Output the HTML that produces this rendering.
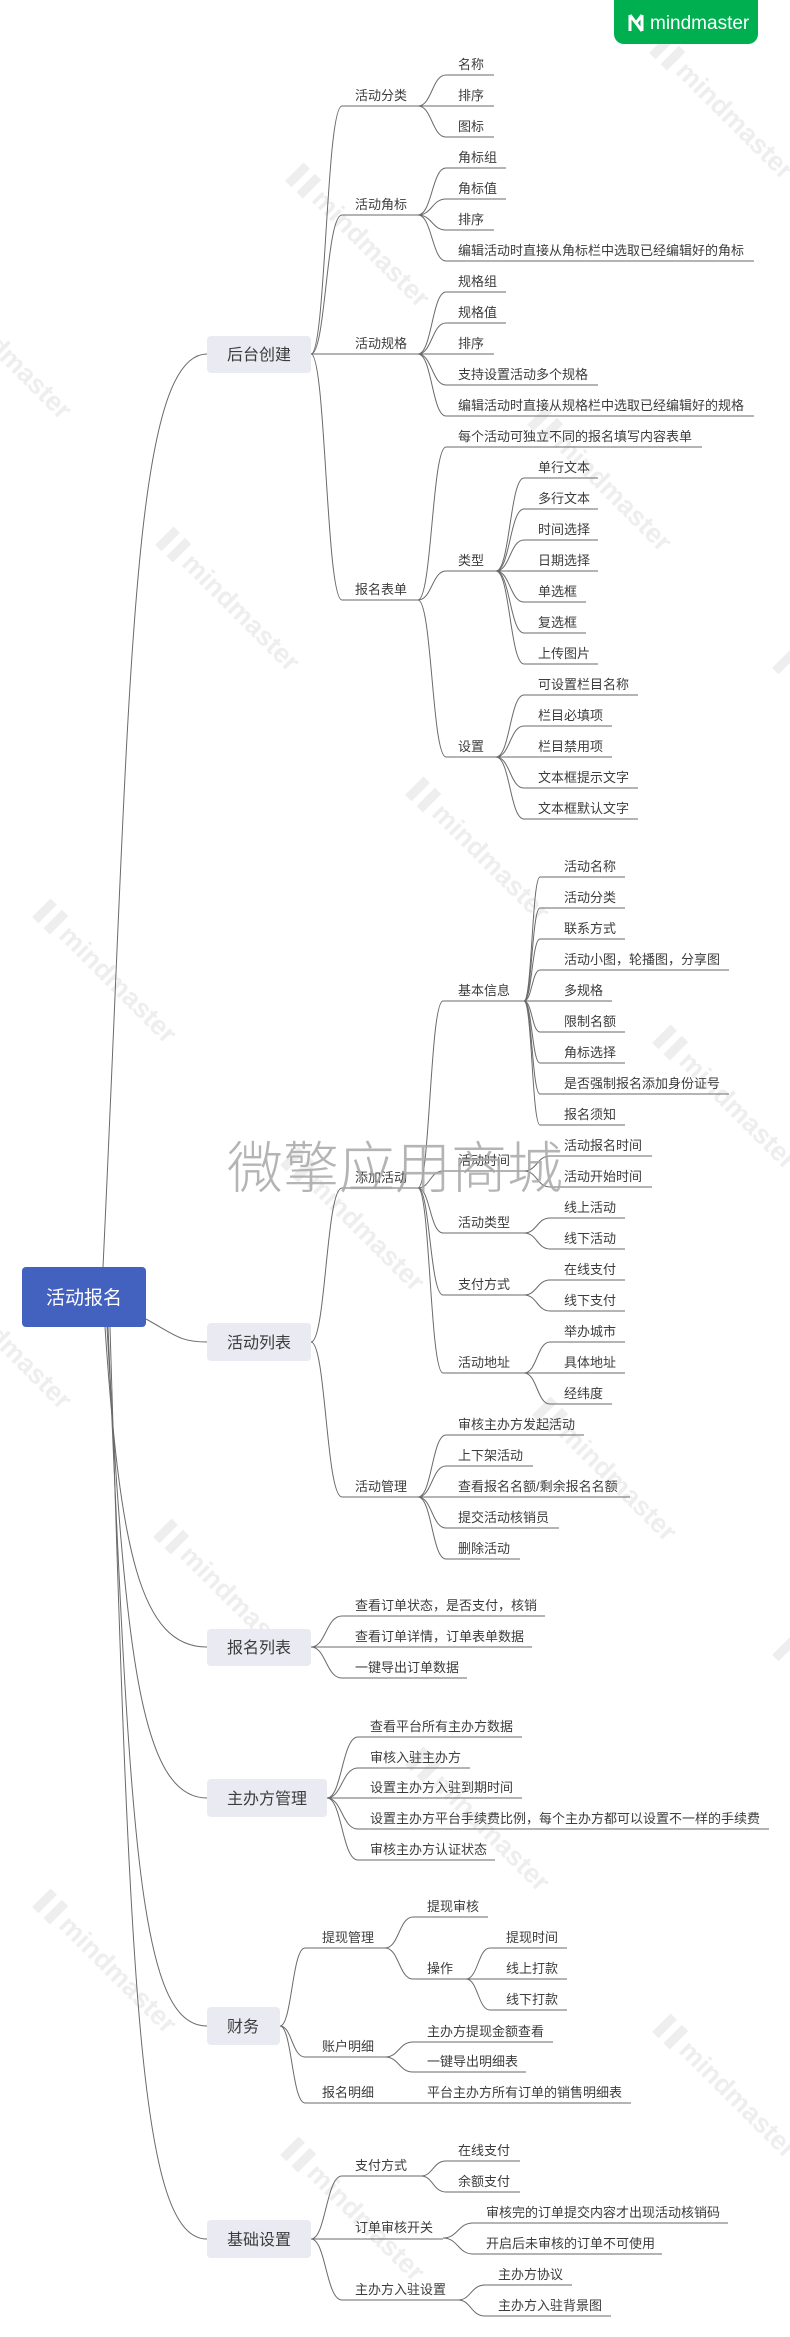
<!DOCTYPE html>
<html><head><meta charset="utf-8"><style>
html,body{margin:0;padding:0;background:#fff;}
svg{display:block;}
text{font-family:"Liberation Sans","Noto Sans CJK SC",sans-serif;}
.l{fill:#3c3c3c;font-size:13px;}
.b{fill:#3c3c3c;font-size:16px;}
.wm{fill:#eeeeee;font-size:27px;font-weight:bold;}
.wr{fill:#eeeeee;}
path.c{fill:none;stroke:#6a6a6a;stroke-width:1;}
</style></head><body>
<svg width="790" height="2337" viewBox="0 0 790 2337" xmlns="http://www.w3.org/2000/svg">
<g>
<g transform="translate(288,178) rotate(45)"><rect class="wr" x="0" y="-22" width="9" height="26"/><rect class="wr" x="16" y="-22" width="9" height="26"/><text class="wm" x="32" y="0">mindmaster</text></g>
<g transform="translate(652,50) rotate(45)"><rect class="wr" x="0" y="-22" width="9" height="26"/><rect class="wr" x="16" y="-22" width="9" height="26"/><text class="wm" x="32" y="0">mindmaster</text></g>
<g transform="translate(-70,290) rotate(45)"><text class="wm" x="32" y="0">mindmaster</text></g>
<g transform="translate(530,422) rotate(45)"><rect class="wr" x="0" y="-22" width="9" height="26"/><rect class="wr" x="16" y="-22" width="9" height="26"/><text class="wm" x="32" y="0">mindmaster</text></g>
<g transform="translate(158,542) rotate(45)"><rect class="wr" x="0" y="-22" width="9" height="26"/><rect class="wr" x="16" y="-22" width="9" height="26"/><text class="wm" x="32" y="0">mindmaster</text></g>
<g transform="translate(408,792) rotate(45)"><rect class="wr" x="0" y="-22" width="9" height="26"/><rect class="wr" x="16" y="-22" width="9" height="26"/><text class="wm" x="32" y="0">mindmaster</text></g>
<g transform="translate(35,914) rotate(45)"><rect class="wr" x="0" y="-22" width="9" height="26"/><rect class="wr" x="16" y="-22" width="9" height="26"/><text class="wm" x="32" y="0">mindmaster</text></g>
<g transform="translate(655,1040) rotate(45)"><rect class="wr" x="0" y="-22" width="9" height="26"/><rect class="wr" x="16" y="-22" width="9" height="26"/><text class="wm" x="32" y="0">mindmaster</text></g>
<g transform="translate(775,665) rotate(45)"><rect class="wr" x="0" y="-22" width="9" height="26"/></g>
<g transform="translate(283,1162) rotate(45)"><rect class="wr" x="0" y="-22" width="9" height="26"/><rect class="wr" x="16" y="-22" width="9" height="26"/><text class="wm" x="32" y="0">mindmaster</text></g>
<g transform="translate(-70,1280) rotate(45)"><text class="wm" x="32" y="0">mindmaster</text></g>
<g transform="translate(535,1412) rotate(45)"><rect class="wr" x="0" y="-22" width="9" height="26"/><rect class="wr" x="16" y="-22" width="9" height="26"/><text class="wm" x="32" y="0">mindmaster</text></g>
<g transform="translate(156,1534) rotate(45)"><rect class="wr" x="0" y="-22" width="9" height="26"/><rect class="wr" x="16" y="-22" width="9" height="26"/><text class="wm" x="32" y="0">mindmaster</text></g>
<g transform="translate(775,1652) rotate(45)"><rect class="wr" x="0" y="-22" width="9" height="26"/></g>
<g transform="translate(408,1762) rotate(45)"><rect class="wr" x="0" y="-22" width="9" height="26"/><rect class="wr" x="16" y="-22" width="9" height="26"/><text class="wm" x="32" y="0">mindmaster</text></g>
<g transform="translate(35,1904) rotate(45)"><rect class="wr" x="0" y="-22" width="9" height="26"/><rect class="wr" x="16" y="-22" width="9" height="26"/><text class="wm" x="32" y="0">mindmaster</text></g>
<g transform="translate(655,2029) rotate(45)"><rect class="wr" x="0" y="-22" width="9" height="26"/><rect class="wr" x="16" y="-22" width="9" height="26"/><text class="wm" x="32" y="0">mindmaster</text></g>
<g transform="translate(283,2152) rotate(45)"><rect class="wr" x="0" y="-22" width="9" height="26"/><rect class="wr" x="16" y="-22" width="9" height="26"/><text class="wm" x="32" y="0">mindmaster</text></g>
</g>

<rect x="614" y="-12" width="144" height="56" rx="10" fill="#00AF50"/>
<path d="M630 15 V31 M630 15 L642 31 M642 15 V31 M636 23 L642 15" stroke="#fff" stroke-width="3" fill="none"/>
<text x="650" y="29" fill="#fff" font-size="19" style="font-family:'Liberation Sans',sans-serif">mindmaster</text>

<path class="c" d="M103 1267 C130 700 130 354 207 354"/>
<path class="c" d="M146 1319 C175 1335 180 1342 207 1342"/>
<path class="c" d="M105 1327 C120 1550 140 1647 207 1647"/>
<path class="c" d="M107 1327 C125 1650 140 1798 207 1798"/>
<path class="c" d="M108 1327 C130 1850 140 2026 207 2026"/>
<path class="c" d="M110 1327 C130 2000 140 2239 207 2239"/>

<path class="c" d="M311 354 C326 354 326 106 342 106 H418"/>
<path class="c" d="M311 354 C326 354 326 215 342 215 H418"/>
<path class="c" d="M311 354 H418"/>
<path class="c" d="M311 354 C326 354 326 600 342 600 H418"/>
<text class="l" x="355" y="100">活动分类</text>
<text class="l" x="355" y="209">活动角标</text>
<text class="l" x="355" y="348">活动规格</text>
<text class="l" x="355" y="594">报名表单</text>

<path class="c" d="M418 106 C432 106 432 75 446 75 H494"/>
<path class="c" d="M418 106 H494"/>
<path class="c" d="M418 106 C432 106 432 137 446 137 H494"/>
<text class="l" x="458" y="69">名称</text>
<text class="l" x="458" y="100">排序</text>
<text class="l" x="458" y="131">图标</text>

<path class="c" d="M418 215 C432 215 432 168 446 168 H506"/>
<path class="c" d="M418 215 C432 215 432 199 446 199 H506"/>
<path class="c" d="M418 215 C432 215 432 230 446 230 H494"/>
<path class="c" d="M418 215 C432 215 432 261 446 261 H754"/>
<text class="l" x="458" y="162">角标组</text>
<text class="l" x="458" y="193">角标值</text>
<text class="l" x="458" y="224">排序</text>
<text class="l" x="458" y="255">编辑活动时直接从角标栏中选取已经编辑好的角标</text>

<path class="c" d="M418 354 C432 354 432 292 446 292 H506"/>
<path class="c" d="M418 354 C432 354 432 323 446 323 H506"/>
<path class="c" d="M418 354 H494"/>
<path class="c" d="M418 354 C432 354 432 385 446 385 H598"/>
<path class="c" d="M418 354 C432 354 432 416 446 416 H754"/>
<text class="l" x="458" y="286">规格组</text>
<text class="l" x="458" y="317">规格值</text>
<text class="l" x="458" y="348">排序</text>
<text class="l" x="458" y="379">支持设置活动多个规格</text>
<text class="l" x="458" y="410">编辑活动时直接从规格栏中选取已经编辑好的规格</text>

<path class="c" d="M418 600 C432 600 432 447 446 447 H702"/>
<path class="c" d="M418 600 C432 600 432 571 446 571 H496"/>
<path class="c" d="M418 600 C432 600 432 757 446 757 H496"/>
<text class="l" x="458" y="441">每个活动可独立不同的报名填写内容表单</text>
<text class="l" x="458" y="565">类型</text>
<text class="l" x="458" y="751">设置</text>

<path class="c" d="M496 571 C510 571 510 478 524 478 H598"/>
<path class="c" d="M496 571 C510 571 510 509 524 509 H598"/>
<path class="c" d="M496 571 C510 571 510 540 524 540 H598"/>
<path class="c" d="M496 571 H598"/>
<path class="c" d="M496 571 C510 571 510 602 524 602 H586"/>
<path class="c" d="M496 571 C510 571 510 633 524 633 H586"/>
<path class="c" d="M496 571 C510 571 510 664 524 664 H598"/>
<text class="l" x="538" y="472">单行文本</text>
<text class="l" x="538" y="503">多行文本</text>
<text class="l" x="538" y="534">时间选择</text>
<text class="l" x="538" y="565">日期选择</text>
<text class="l" x="538" y="596">单选框</text>
<text class="l" x="538" y="627">复选框</text>
<text class="l" x="538" y="658">上传图片</text>

<path class="c" d="M496 757 C510 757 510 695 524 695 H638"/>
<path class="c" d="M496 757 C510 757 510 726 524 726 H612"/>
<path class="c" d="M496 757 H612"/>
<path class="c" d="M496 757 C510 757 510 788 524 788 H638"/>
<path class="c" d="M496 757 C510 757 510 819 524 819 H638"/>
<text class="l" x="538" y="689">可设置栏目名称</text>
<text class="l" x="538" y="720">栏目必填项</text>
<text class="l" x="538" y="751">栏目禁用项</text>
<text class="l" x="538" y="782">文本框提示文字</text>
<text class="l" x="538" y="813">文本框默认文字</text>

<path class="c" d="M311 1342 C326 1342 326 1188 342 1188 H418"/>
<path class="c" d="M311 1342 C326 1342 326 1497 342 1497 H418"/>
<text class="l" x="355" y="1182">添加活动</text>
<text class="l" x="355" y="1491">活动管理</text>

<path class="c" d="M418 1188 C430 1188 430 1001 443 1001 H524"/>
<path class="c" d="M418 1188 C430 1188 430 1171 443 1171 H524"/>
<path class="c" d="M418 1188 C430 1188 430 1233 443 1233 H524"/>
<path class="c" d="M418 1188 C430 1188 430 1295 443 1295 H524"/>
<path class="c" d="M418 1188 C430 1188 430 1373 443 1373 H524"/>
<text class="l" x="458" y="995">基本信息</text>
<text class="l" x="458" y="1165">活动时间</text>
<text class="l" x="458" y="1227">活动类型</text>
<text class="l" x="458" y="1289">支付方式</text>
<text class="l" x="458" y="1367">活动地址</text>

<path class="c" d="M524 1001 C532 1001 532 877 540 877 H625"/>
<path class="c" d="M524 1001 C532 1001 532 908 540 908 H625"/>
<path class="c" d="M524 1001 C532 1001 532 939 540 939 H625"/>
<path class="c" d="M524 1001 C532 1001 532 970 540 970 H729"/>
<path class="c" d="M524 1001 H612"/>
<path class="c" d="M524 1001 C532 1001 532 1032 540 1032 H625"/>
<path class="c" d="M524 1001 C532 1001 532 1063 540 1063 H625"/>
<path class="c" d="M524 1001 C532 1001 532 1094 540 1094 H729"/>
<path class="c" d="M524 1001 C532 1001 532 1125 540 1125 H625"/>
<text class="l" x="564" y="871">活动名称</text>
<text class="l" x="564" y="902">活动分类</text>
<text class="l" x="564" y="933">联系方式</text>
<text class="l" x="564" y="964">活动小图，轮播图，分享图</text>
<text class="l" x="564" y="995">多规格</text>
<text class="l" x="564" y="1026">限制名额</text>
<text class="l" x="564" y="1057">角标选择</text>
<text class="l" x="564" y="1088">是否强制报名添加身份证号</text>
<text class="l" x="564" y="1119">报名须知</text>

<path class="c" d="M524 1171 C537 1171 537 1156 550 1156 H652"/>
<path class="c" d="M524 1171 C537 1171 537 1187 550 1187 H652"/>
<text class="l" x="564" y="1150">活动报名时间</text>
<text class="l" x="564" y="1181">活动开始时间</text>

<path class="c" d="M524 1233 C537 1233 537 1218 550 1218 H625"/>
<path class="c" d="M524 1233 C537 1233 537 1249 550 1249 H625"/>
<text class="l" x="564" y="1212">线上活动</text>
<text class="l" x="564" y="1243">线下活动</text>

<path class="c" d="M524 1295 C537 1295 537 1280 550 1280 H625"/>
<path class="c" d="M524 1295 C537 1295 537 1311 550 1311 H625"/>
<text class="l" x="564" y="1274">在线支付</text>
<text class="l" x="564" y="1305">线下支付</text>

<path class="c" d="M524 1373 C537 1373 537 1342 550 1342 H625"/>
<path class="c" d="M524 1373 H625"/>
<path class="c" d="M524 1373 C537 1373 537 1404 550 1404 H612"/>
<text class="l" x="564" y="1336">举办城市</text>
<text class="l" x="564" y="1367">具体地址</text>
<text class="l" x="564" y="1398">经纬度</text>

<path class="c" d="M418 1497 C432 1497 432 1435 446 1435 H584"/>
<path class="c" d="M418 1497 C432 1497 432 1466 446 1466 H533"/>
<path class="c" d="M418 1497 H630"/>
<path class="c" d="M418 1497 C432 1497 432 1528 446 1528 H559"/>
<path class="c" d="M418 1497 C432 1497 432 1559 446 1559 H520"/>
<text class="l" x="458" y="1429">审核主办方发起活动</text>
<text class="l" x="458" y="1460">上下架活动</text>
<text class="l" x="458" y="1491">查看报名名额/剩余报名名额</text>
<text class="l" x="458" y="1522">提交活动核销员</text>
<text class="l" x="458" y="1553">删除活动</text>

<path class="c" d="M311 1647 C326 1647 326 1616 342 1616 H545"/>
<path class="c" d="M311 1647 H532"/>
<path class="c" d="M311 1647 C326 1647 326 1678 342 1678 H467"/>
<text class="l" x="355" y="1610">查看订单状态，是否支付，核销</text>
<text class="l" x="355" y="1641">查看订单详情，订单表单数据</text>
<text class="l" x="355" y="1672">一键导出订单数据</text>

<path class="c" d="M327 1798 C342 1798 342 1737 358 1737 H522"/>
<path class="c" d="M327 1798 C342 1798 342 1768 358 1768 H470"/>
<path class="c" d="M327 1798 H522"/>
<path class="c" d="M327 1798 C342 1798 342 1829 358 1829 H769"/>
<path class="c" d="M327 1798 C342 1798 342 1860 358 1860 H495"/>
<text class="l" x="370" y="1731">查看平台所有主办方数据</text>
<text class="l" x="370" y="1762">审核入驻主办方</text>
<text class="l" x="370" y="1792">设置主办方入驻到期时间</text>
<text class="l" x="370" y="1823">设置主办方平台手续费比例，每个主办方都可以设置不一样的手续费</text>
<text class="l" x="370" y="1854">审核主办方认证状态</text>

<path class="c" d="M280 2026 C292 2026 292 1948 305 1948 H385"/>
<path class="c" d="M280 2026 C292 2026 292 2057 305 2057 H385"/>
<path class="c" d="M280 2026 C292 2026 292 2103 305 2103 H631"/>
<text class="l" x="322" y="1942">提现管理</text>
<text class="l" x="322" y="2051">账户明细</text>
<text class="l" x="322" y="2097">报名明细</text>
<text class="l" x="427" y="2097">平台主办方所有订单的销售明细表</text>

<path class="c" d="M385 1948 C399 1948 399 1917 413 1917 H488"/>
<path class="c" d="M385 1948 C399 1948 399 1979 413 1979 H466"/>
<text class="l" x="427" y="1911">提现审核</text>
<text class="l" x="427" y="1973">操作</text>

<path class="c" d="M466 1979 C478 1979 478 1948 490 1948 H567"/>
<path class="c" d="M466 1979 H567"/>
<path class="c" d="M466 1979 C478 1979 478 2010 490 2010 H567"/>
<text class="l" x="506" y="1942">提现时间</text>
<text class="l" x="506" y="1973">线上打款</text>
<text class="l" x="506" y="2004">线下打款</text>

<path class="c" d="M385 2057 C399 2057 399 2042 413 2042 H553"/>
<path class="c" d="M385 2057 C399 2057 399 2072 413 2072 H526"/>
<text class="l" x="427" y="2036">主办方提现金额查看</text>
<text class="l" x="427" y="2066">一键导出明细表</text>

<path class="c" d="M311 2239 C326 2239 326 2176 342 2176 H421"/>
<path class="c" d="M311 2239 H443"/>
<path class="c" d="M311 2239 C326 2239 326 2300 342 2300 H458"/>
<text class="l" x="355" y="2170">支付方式</text>
<text class="l" x="355" y="2232">订单审核开关</text>
<text class="l" x="355" y="2294">主办方入驻设置</text>

<path class="c" d="M421 2176 C433 2176 433 2161 446 2161 H520"/>
<path class="c" d="M421 2176 C433 2176 433 2192 446 2192 H520"/>
<text class="l" x="458" y="2155">在线支付</text>
<text class="l" x="458" y="2186">余额支付</text>

<path class="c" d="M443 2238 C458 2238 458 2223 473 2223 H728"/>
<path class="c" d="M443 2238 C458 2238 458 2254 473 2254 H662"/>
<text class="l" x="486" y="2217">审核完的订单提交内容才出现活动核销码</text>
<text class="l" x="486" y="2248">开启后未审核的订单不可使用</text>

<path class="c" d="M458 2300 C471 2300 471 2285 485 2285 H572"/>
<path class="c" d="M458 2300 C471 2300 471 2316 485 2316 H611"/>
<text class="l" x="498" y="2279">主办方协议</text>
<text class="l" x="498" y="2310">主办方入驻背景图</text>

<rect x="207" y="336" width="104" height="37" rx="4" fill="#E9EAF2"/>
<text class="b" x="259" y="360" text-anchor="middle">后台创建</text>
<rect x="207" y="1323" width="104" height="38" rx="4" fill="#E9EAF2"/>
<text class="b" x="259" y="1348" text-anchor="middle">活动列表</text>
<rect x="207" y="1629" width="104" height="37" rx="4" fill="#E9EAF2"/>
<text class="b" x="259" y="1653" text-anchor="middle">报名列表</text>
<rect x="207" y="1779" width="120" height="38" rx="4" fill="#E9EAF2"/>
<text class="b" x="267" y="1804" text-anchor="middle">主办方管理</text>
<rect x="207" y="2007" width="73" height="38" rx="4" fill="#E9EAF2"/>
<text class="b" x="243" y="2032" text-anchor="middle">财务</text>
<rect x="207" y="2220" width="104" height="38" rx="4" fill="#E9EAF2"/>
<text class="b" x="259" y="2245" text-anchor="middle">基础设置</text>

<rect x="22" y="1267" width="124" height="60" rx="4" fill="#4361BE"/>
<text x="84" y="1304" text-anchor="middle" fill="#fff" font-size="19">活动报名</text>

<text x="227" y="1188" fill="#a8a8a8" font-size="56" style="font-family:'Noto Sans CJK SC',sans-serif;font-weight:300" opacity="0.85">微擎应用商城</text>
</svg>
</body></html>
